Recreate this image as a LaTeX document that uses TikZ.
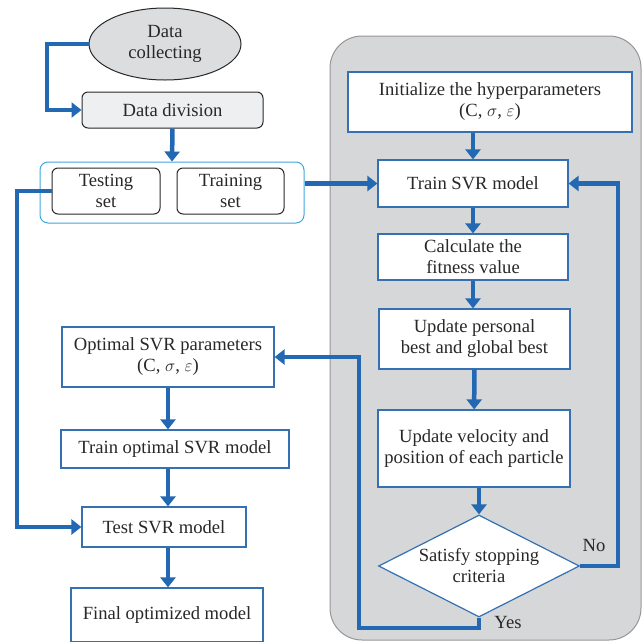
\documentclass[tikz,border=0pt]{standalone}
\usepackage{fontspec}
\setmainfont{Liberation Serif}
\usetikzlibrary{shapes.geometric,arrows.meta}

\definecolor{flowblue}{RGB}{34,104,178}
\definecolor{boxblue}{RGB}{52,112,178}
\definecolor{framecyan}{RGB}{64,166,220}
\definecolor{panelgray}{RGB}{214,215,217}
\definecolor{paneledge}{RGB}{150,150,152}
\definecolor{divfill}{RGB}{238,239,241}
\definecolor{ellfill}{RGB}{220,221,223}
\definecolor{textgray}{RGB}{40,40,40}

\begin{document}
\begin{tikzpicture}[x=1pt,y=-1pt]
\tikzstyle{every node}=[font=\fontsize{18.6}{21}\selectfont, text=textgray]
\tikzstyle{box}=[draw=boxblue, line width=1.2pt, fill=white, align=center, inner sep=0pt]
\tikzstyle{setbox}=[draw=textgray, line width=1pt, fill=white, rounded corners=6pt, align=center, inner sep=0pt]
\tikzstyle{flow}=[draw=flowblue, line width=4.5pt, -{Triangle[length=10pt,width=15pt]}]

% fix the size of the page
\useasboundingbox (0,0) rectangle (643,641);

% the grey panel for the optimisation loop
\draw [fill=panelgray, draw=paneledge, line width=1pt, rounded corners=32pt] (330,36) rectangle (641,640);

% data preparation
\node [ellipse, draw=textgray, line width=1pt, fill=ellfill, minimum width=152pt, minimum height=72pt, inner sep=0pt, align=center] (collect) at (165,44) {Data\\collecting};
\node [setbox, fill=divfill, minimum width=181pt, minimum height=36pt] (division) at (172.5,110) {Data division};
\node [draw=framecyan, line width=1pt, rounded corners=8pt, minimum width=264pt, minimum height=61pt] (sets) at (172,192.5) {};
\node [setbox, minimum width=108pt, minimum height=46pt] (testing) at (106,191) {Testing\\set};
\node [setbox, minimum width=107pt, minimum height=46pt] (training) at (230.5,191) {Training\\set};

% PSO loop
\node [box, minimum width=284pt, minimum height=60pt] (init) at (490,102) {Initialize the hyperparameters\\(C, $\sigma$, $\varepsilon$)};
\node [box, minimum width=190pt, minimum height=47pt] (train) at (473,183.5) {Train SVR model};
\node [box, minimum width=190pt, minimum height=46pt] (calc) at (473,257) {Calculate the\\fitness value};
\node [box, minimum width=191pt, minimum height=60pt] (personal) at (474.5,339) {Update personal\\best and global best};
\node [box, minimum width=192pt, minimum height=77pt] (velocity) at (474,448.5) {Update velocity and\\position of each particle};
\node [box, diamond, aspect=2, minimum width=201pt, minimum height=102pt] (stop) at (479,566) {Satisfy stopping\\criteria};

% final model
\node [box, minimum width=212pt, minimum height=60pt] (optimal) at (168,357) {Optimal SVR parameters\\(C, $\sigma$, $\varepsilon$)};
\node [box, minimum width=228pt, minimum height=38pt] (trainopt) at (175,449) {Train optimal SVR model};
\node [box, minimum width=164pt, minimum height=40pt] (test) at (164,527) {Test SVR model};
\node [box, minimum width=192pt, minimum height=54pt] (final) at (167,615) {Final optimized model};

% turning points of the long connectors
\coordinate (collectturn) at (47,44);
\coordinate (testturn) at (17,191);
\coordinate (noturn) at (618,566);
\coordinate (yesturn) at (359,628);

% connectors
\draw [flow] (collect.west) -- (collectturn) |- (division.west);
\draw [flow] (division.south) -- (sets.north);
\draw [flow] (testing.west) -- (testturn) |- (test.west);
\draw [flow] (sets.east |- train.west) -- (train.west);
\draw [flow] (train.north |- init.south) -- (train.north);
\draw [flow] (train) -- (calc);
\draw [flow] (calc.south) -- (calc.south |- personal.north);
\draw [flow] (personal) -- (velocity);
\draw [flow] (stop.north |- velocity.south) -- (stop.north);
\draw [flow] (stop.east) -- (noturn) |- (train.east);
\draw [flow] (stop.south) |- (yesturn) |- (optimal.east);
\draw [flow] (optimal) -- (optimal |- trainopt.north);
\draw [flow] (optimal |- trainopt.south) -- (optimal |- test.north);
\draw [flow] (optimal |- test.south) -- (optimal |- final.north);

% branch labels
\node (no) at (594,545) {No};
\node (yes) at (508,622) {Yes};

\end{tikzpicture}
\end{document}
